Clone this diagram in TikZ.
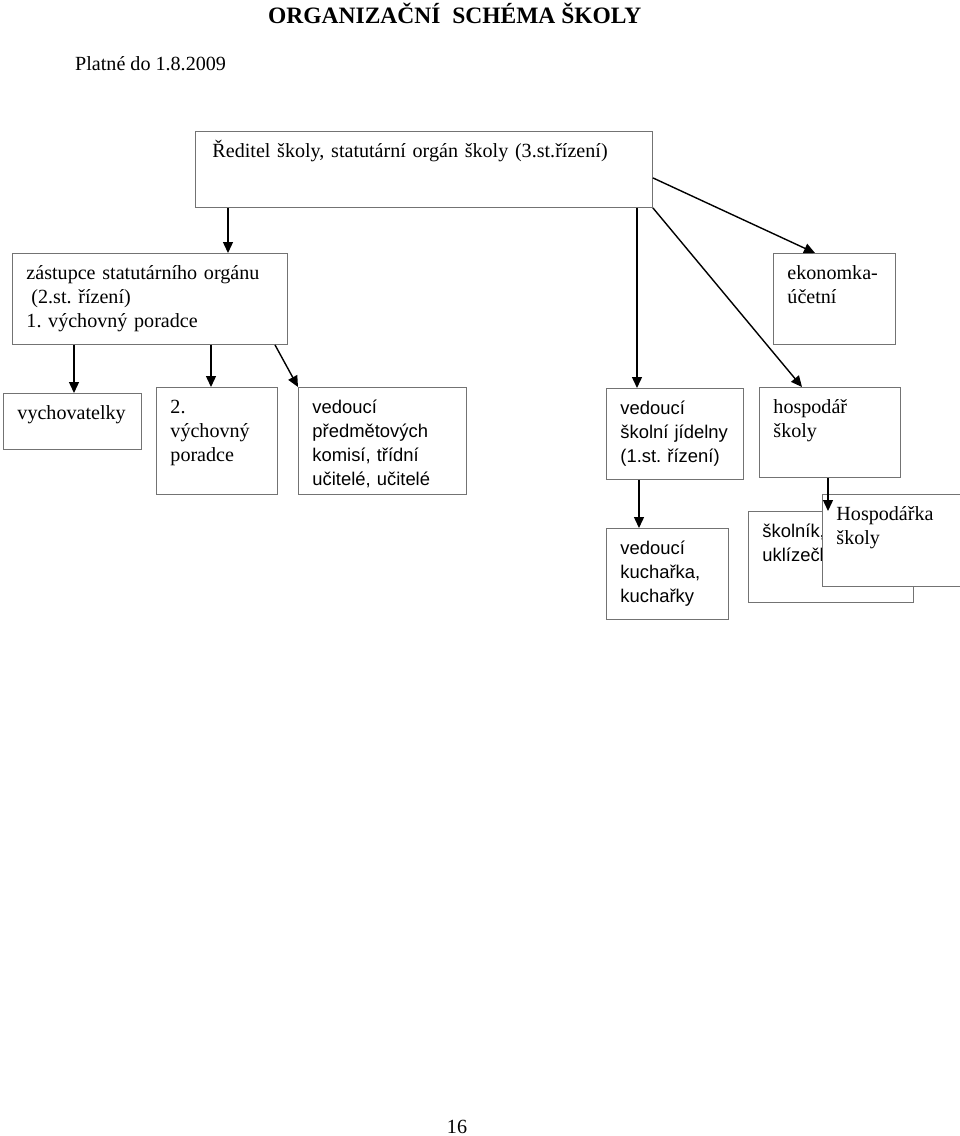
\documentclass[tikz,border=0pt]{standalone}
\usepackage{fontspec}
\setmainfont{Liberation Serif}
\setsansfont{Liberation Sans}
\usetikzlibrary{arrows.meta}
\frenchspacing

\tikzset{
  unit/.style={draw=black!55, line width=0.9pt, fill=white, anchor=north west, align=left, inner xsep=14pt, inner ysep=12pt, text height=14pt, font=\rmfamily\fontsize{20.1}{24}\selectfont},
  sansunit/.style={unit, font=\sffamily\fontsize{18.4}{24}\selectfont},
  arr/.style={-{Triangle[length=11pt,width=10pt]}, line width=1.4pt},
  caption/.style={inner sep=0pt, font=\rmfamily\fontsize{20.1}{24}\selectfont}
}

\begin{document}
\begin{tikzpicture}[x=1pt,y=-1pt]
\useasboundingbox (0,0) rectangle (960,1136);

\node[caption, anchor=base west, font=\bfseries\fontsize{23.5}{28}\selectfont] (nadpis) at (268,23) {ORGANIZAČNÍ\ \ SCHÉMA ŠKOLY};
\node[caption, anchor=base west] (platnost) at (75,70) {Platné do 1.8.2009};
\node[caption, anchor=base] (strana) at (457,1133) {16};

\node[unit, inner xsep=17pt, text width=423pt, text depth=38pt] (reditel) at (195,131) {Ředitel školy, statutární orgán školy (3.st.řízení)};
\node[unit, text width=247pt, text depth=53pt] (zastupce) at (12,253) {zástupce statutárního orgánu\\\hspace*{5pt}(2.st. řízení)\\1. výchovný poradce};
\node[unit, text width=94pt, text depth=53pt] (ekonom) at (773,253) {ekonomka-\\účetní};

\node[unit, text width=110pt, text depth=18pt] (vychov) at (3,393) {vychovatelky};
\node[unit, text width=93pt, text depth=69pt] (poradce) at (156,387) {2.\\výchovný\\poradce};
\node[sansunit, text width=140pt, text depth=69pt] (predmet) at (298,387) {vedoucí\\předmětových\\komisí, třídní\\učitelé, učitelé};
\node[sansunit, text width=109pt, text depth=53pt] (jidelna) at (606,388) {vedoucí\\školní jídelny\\(1.st. řízení)};
\node[unit, text width=113pt, text depth=52pt] (hospodar) at (759,387) {hospodář\\školy};

\node[sansunit, text width=94pt, text depth=53pt] (kuchar) at (606,528) {vedoucí\\kuchařka,\\kuchařky};
\node[sansunit, text width=137pt, text depth=53pt] (skolnik) at (748,511) {školník,\\uklízečky};
\node[unit, text width=132pt, text depth=54pt] (hospodarka) at (822,494) {Hospodářka\\školy};

\draw[arr] ([xshift=33pt]reditel.south west) -- ([xshift=216pt]zastupce.north west);
\draw[arr] ([xshift=442pt]reditel.south west) -- ([xshift=31pt]jidelna.north west);
\draw[arr] ([yshift=30pt]reditel.south east) -- ([xshift=42pt]ekonom.north west);
\draw[arr] (reditel.south east) -- ([xshift=43pt]hospodar.north west);
\draw[arr] ([xshift=62pt]zastupce.south west) -- ([xshift=71pt]vychov.north west);
\draw[arr] ([xshift=199pt]zastupce.south west) -- ([xshift=55pt]poradce.north west);
\draw[arr] ([xshift=263pt]zastupce.south west) -- (predmet.north west);
\draw[arr] ([xshift=33pt]jidelna.south west) -- ([xshift=33pt]kuchar.north west);
\draw[arr] ([xshift=69pt]hospodar.south west) -- ([xshift=80pt]skolnik.north west);
\end{tikzpicture}
\end{document}
